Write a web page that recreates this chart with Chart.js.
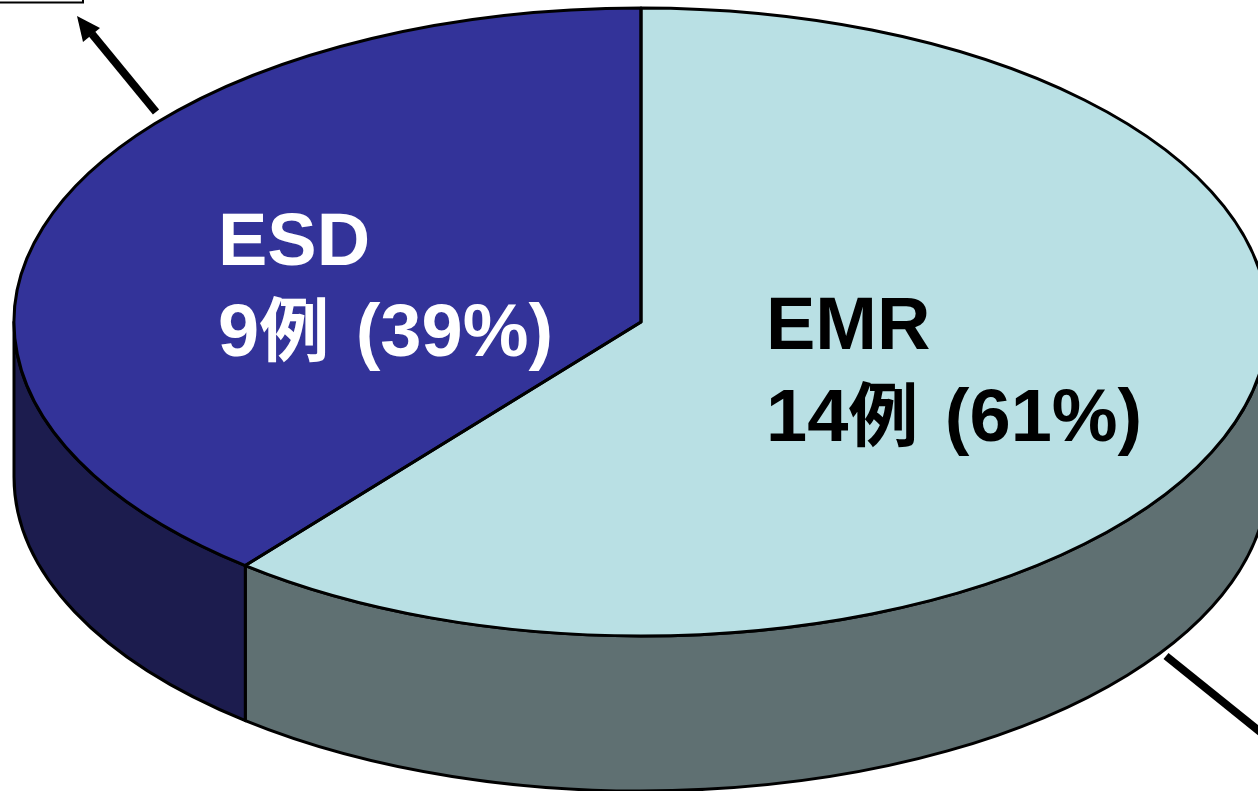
<!DOCTYPE html>
<html><head><meta charset="utf-8">
<style>html,body{margin:0;padding:0;background:#fff;overflow:hidden}
#w{position:absolute;left:0;top:0;width:1258px;height:791px}</style>
<script src="https://cdn.jsdelivr.net/npm/chart.js@4"></script></head>
<body><div id="w"><canvas id="c" width="1258" height="791"></canvas></div>
<script>
const categories=["EMR","ESD"];
const values=[14,9];
const counts=["14","9"];
const caseWord="例";
const percents=[" (61%)"," (39%)"];
const topColors=["#B9E0E4","#333399"];
const sideColors=["#5F7072","#1C1C4E"];
const labelColors=["#000000","#FFFFFF"];
const labelPos=[[766,349,441],[218,265,356]];
const squash={cx:641,cy:322,rx:627,ry:314,depth:155};
const latinFont='bold 74px "Liberation Sans",sans-serif';
const cjkFont='bold 70px "Noto Sans CJK JP",sans-serif';
const gapAfterWord=6;

function applyT(ctx,el){
  ctx.translate(squash.cx,squash.cy);
  ctx.scale(squash.rx/el.outerRadius,squash.ry/el.outerRadius);
  ctx.translate(-el.x,-el.y);
}
const pie3d={
  id:'pie3d',
  beforeDatasetsDraw(chart){
    const ctx=chart.ctx;
    const arcs=chart.getDatasetMeta(0).data;
    arcs.forEach((el,i)=>{
      const R=el.outerRadius;
      const b0=Math.max(el.startAngle,0), b1=Math.min(el.endAngle,Math.PI);
      if(b1<=b0) return;
      const dz=squash.depth*R/squash.ry;
      ctx.save();
      ctx.beginPath();
      ctx.save();
      applyT(ctx,el);
      ctx.arc(el.x,el.y,R,b0,b1,false);
      ctx.arc(el.x,el.y+dz,R,b1,b0,true);
      ctx.closePath();
      ctx.restore();
      ctx.fillStyle=sideColors[i];
      ctx.fill();
      ctx.lineWidth=3;ctx.strokeStyle='#000';ctx.lineJoin='round';
      ctx.stroke();
      ctx.restore();
    });
  },
  beforeDatasetDraw(chart){
    const ctx=chart.ctx,el=chart.getDatasetMeta(0).data[0];
    ctx.save();applyT(ctx,el);
  },
  afterDatasetDraw(chart){
    const ctx=chart.ctx,arcs=chart.getDatasetMeta(0).data;
    ctx.restore();
    arcs.forEach(el=>{
      ctx.save();
      ctx.beginPath();
      ctx.save();applyT(ctx,el);
      ctx.moveTo(el.x,el.y);
      ctx.arc(el.x,el.y,el.outerRadius,el.startAngle,el.endAngle);
      ctx.closePath();
      ctx.restore();
      ctx.lineWidth=3;ctx.strokeStyle='#000';ctx.lineJoin='round';ctx.stroke();
      ctx.restore();
    });
  },
  afterDraw(chart){
    const ctx=chart.ctx;
    ctx.save();
    ctx.textBaseline='alphabetic';ctx.textAlign='left';
    categories.forEach((name,i)=>{
      const [x,y1,y2]=labelPos[i];
      ctx.fillStyle=labelColors[i];
      ctx.font=latinFont;
      ctx.fillText(name,x,y1);
      let px=x;
      ctx.fillText(counts[i],px,y2);
      px+=ctx.measureText(counts[i]).width;
      ctx.font=cjkFont;
      ctx.fillText(caseWord,px,y2);
      px+=ctx.measureText(caseWord).width+gapAfterWord;
      ctx.font=latinFont;
      ctx.fillText(percents[i],px,y2);
    });
    ctx.strokeStyle='#000';ctx.fillStyle='#000';
    ctx.lineWidth=8;
    ctx.beginPath();ctx.moveTo(156,112);ctx.lineTo(92,34);ctx.stroke();
    ctx.beginPath();ctx.moveTo(77,16);ctx.lineTo(100,28);ctx.lineTo(83,42);ctx.closePath();ctx.fill();
    ctx.beginPath();ctx.moveTo(1166,656);ctx.lineTo(1264,735);ctx.stroke();
    ctx.lineWidth=2;
    ctx.beginPath();ctx.moveTo(0,2.5);ctx.lineTo(83,2.5);ctx.lineTo(83,0);ctx.stroke();
    ctx.restore();
  }
};
new Chart(document.getElementById('c'),{
  type:'pie',
  data:{labels:categories,datasets:[{data:values,backgroundColor:topColors,borderWidth:0,clip:false}]},
  options:{responsive:false,animation:false,rotation:0,
    layout:{padding:0},
    plugins:{legend:{display:false},tooltip:{enabled:false}}},
  plugins:[pie3d]
});
</script></body></html>
